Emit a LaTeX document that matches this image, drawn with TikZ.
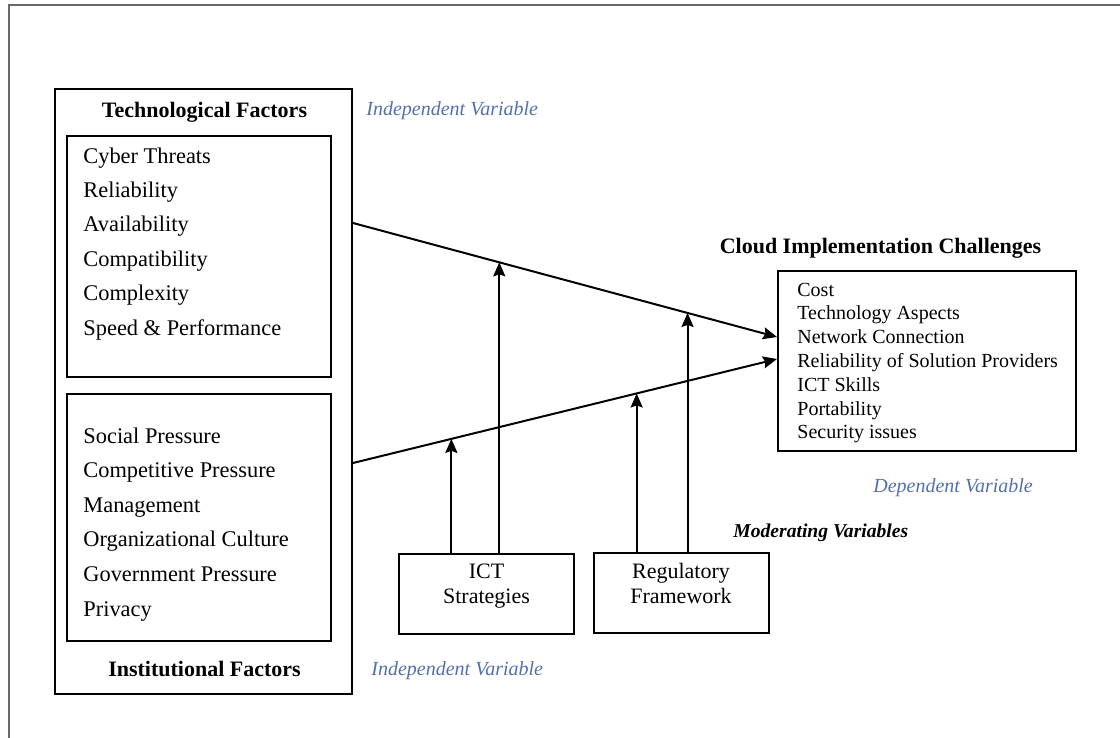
\documentclass[tikz,border=0pt]{standalone}
\usepackage{fontspec}
\setmainfont{Liberation Serif}
\usepackage{xcolor}
\usepackage{tikz}
\usetikzlibrary{arrows.meta}
\usetikzlibrary{calc}
\definecolor{varblue}{RGB}{82,112,172}
\definecolor{framegray}{RGB}{105,105,105}
\tikzset{>={Stealth[length=7pt,width=6pt,inset=1pt]}}

\begin{document}
\begin{tikzpicture}[x=0.5pt,y=-0.5pt,
    box/.style={draw,line width=1pt,inner sep=0pt},
    item/.style={anchor=base west,inner sep=0pt,font=\fontsize{11.2}{13}\selectfont},
    citem/.style={anchor=base west,inner sep=0pt,font=\fontsize{10}{12}\selectfont},
    title/.style={anchor=base,inner sep=0pt,font=\fontsize{11}{13}\selectfont\bfseries},
    note/.style={anchor=base west,inner sep=0pt,text=varblue,font=\fontsize{10}{12}\selectfont\itshape},
    modbox/.style={box,minimum width=87.5pt,minimum height=40pt,align=center,text depth=10pt,
      font=\fontsize{11}{12.5}\selectfont}]
    \useasboundingbox (0,0) rectangle (1120,738);
    \draw[framegray,line width=1.2pt] (9,738) -- (9,5) -- (1120,5);

    % independent variables
    \node[box,minimum width=148.5pt,minimum height=302.5pt] (indep) at (203.5,391.5) {};
    \node[box,minimum width=132pt,minimum height=120.5pt] (tech) at (199,256.5) {};
    \node[box,minimum width=132pt,minimum height=123.5pt] (inst) at (199,517.5) {};
    \node[title] (techtitle) at (204.5,118) {Technological Factors};
    \node[title] (insttitle) at (204.5,676) {Institutional Factors};
    \foreach \t [count=\i from 0] in {Cyber Threats,Reliability,Availability,Compatibility,Complexity,Speed \& Performance}
      \node[item] (tf\i) at (83,{163+34.4*\i}) {\t};
    \foreach \t [count=\i from 0] in {Social Pressure,Competitive Pressure,Management,Organizational Culture,Government Pressure,Privacy}
      \node[item] (if\i) at (83,{443+34.6*\i}) {\t};
    \node[note] (iv1) at (366,116) {Independent Variable};
    \node[note] (iv2) at (371,675) {Independent Variable};

    % dependent variable
    \node[box,minimum width=149pt,minimum height=90pt] (chal) at (927,361) {};
    \node[title] (chaltitle) at (880.5,254) {Cloud Implementation Challenges};
    \foreach \t [count=\i from 0] in {Cost,Technology Aspects,Network Connection,Reliability of Solution Providers,ICT Skills,Portability,Security issues}
      \node[citem] (ch\i) at (797,{296+23.8*\i}) {\t};
    \node[note] (dv) at (873,492) {Dependent Variable};

    % moderating variables
    \node[modbox] (ict) at (486.5,594) {ICT\\Strategies};
    \node[modbox] (reg) at (681,593) {Regulatory\\Framework};
    \node[anchor=base west,inner sep=0pt,font=\fontsize{9.8}{12}\selectfont\bfseries\itshape] (mv) at (733,537) {Moderating Variables};

    % connectors
    \draw[->,line width=1pt] (indep.east |- 0,223) -- coordinate[pos=0.345] (m1) coordinate[pos=0.789] (m2) (chal.west |- 0,337);
    \draw[->,line width=1pt] (indep.east |- 0,463) -- coordinate[pos=0.232] (n1) coordinate[pos=0.669] (n2) (chal.west |- 0,359);
    \draw[->,line width=1pt] (ict.north -| n1) -- (n1);
    \draw[->,line width=1pt] (ict.north -| m1) -- (m1);
    \draw[->,line width=1pt] (reg.north -| n2) -- (n2);
    \draw[->,line width=1pt] (reg.north -| m2) -- (m2);
\end{tikzpicture}
\end{document}
